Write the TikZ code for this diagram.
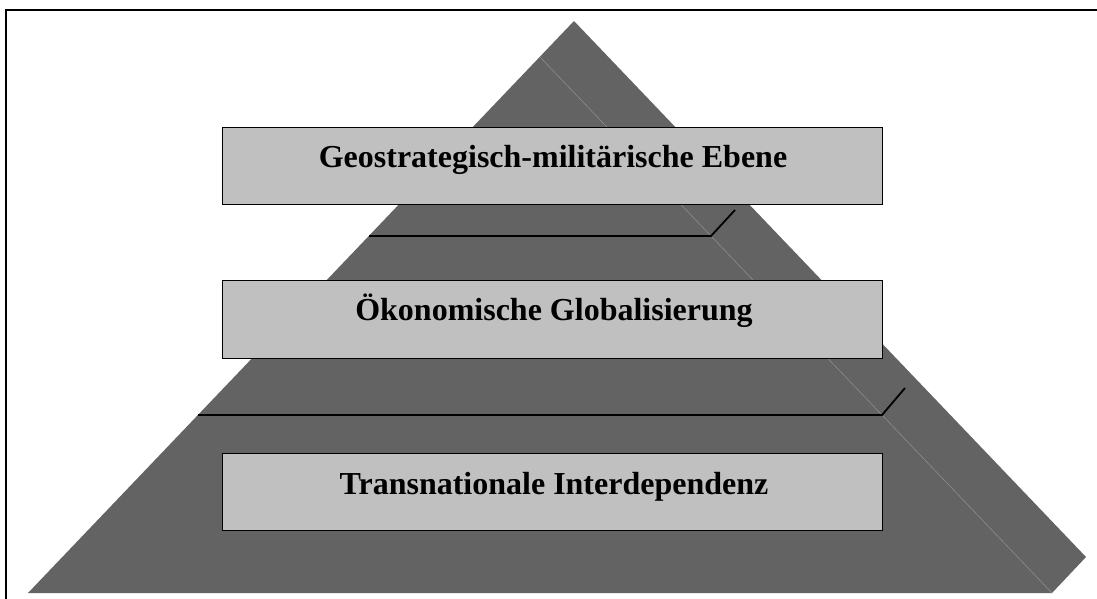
\documentclass[tikz,border=0pt]{standalone}
\usepackage{fontspec}
\setmainfont{Liberation Serif}
\definecolor{pyr}{HTML}{636363}
\definecolor{crease}{HTML}{8C8C8C}
\definecolor{boxfill}{HTML}{C0C0C0}
\begin{document}
\begin{tikzpicture}[x=1pt,y=-1pt,
  levelbox/.style={draw=black,line width=1.4pt,fill=boxfill,rectangle,inner sep=0pt,
    minimum width=660pt,minimum height=77pt,anchor=north west},
  leveltext/.style={anchor=base,inner sep=0pt,font=\fontsize{32}{38}\selectfont\bfseries},
  slice/.style={draw=black,line width=1.8pt},
  frameline/.style={draw=black,line width=2pt}]
\useasboundingbox (0,0) rectangle (1097,599);
% frame
\coordinate (fr1) at (6,599);
\coordinate (fr2) at (6,10);
\coordinate (fr3) at (1097,10);
\draw[frameline] (fr1) -- (fr2) -- (fr3);
% pyramid
\coordinate (A) at (574,21);
\coordinate (R) at (1086,557);
\coordinate (F) at (1052,593);
\coordinate (L) at (28,593);
\coordinate (P) at (540,57);
\fill[pyr] (A) -- (R) -- (F) -- (L) -- cycle;
\draw[crease,line width=0.6pt] (P) -- (F);
% slice lines
\coordinate (s1l) at (369,236);
\coordinate (s1c) at (711,236);
\coordinate (s1e) at (735,210);
\coordinate (s2l) at (198,415);
\coordinate (s2c) at (882,415);
\coordinate (s2e) at (905,388);
\draw[slice] (s1l) -- (s1c) -- (s1e);
\draw[slice] (s2l) -- (s2c) -- (s2e);
% boxes
\node[levelbox] (b1) at (222,127) {};
\node[levelbox,minimum height=78pt] (b2) at (222,280) {};
\node[levelbox] (b3) at (222,453) {};
\node[leveltext] (t1) at (553,167) {Geostrategisch-militärische Ebene};
\node[leveltext] (t2) at (554,320) {Ökonomische Globalisierung};
\node[leveltext] (t3) at (554,494) {Transnationale Interdependenz};
\end{tikzpicture}
\end{document}
